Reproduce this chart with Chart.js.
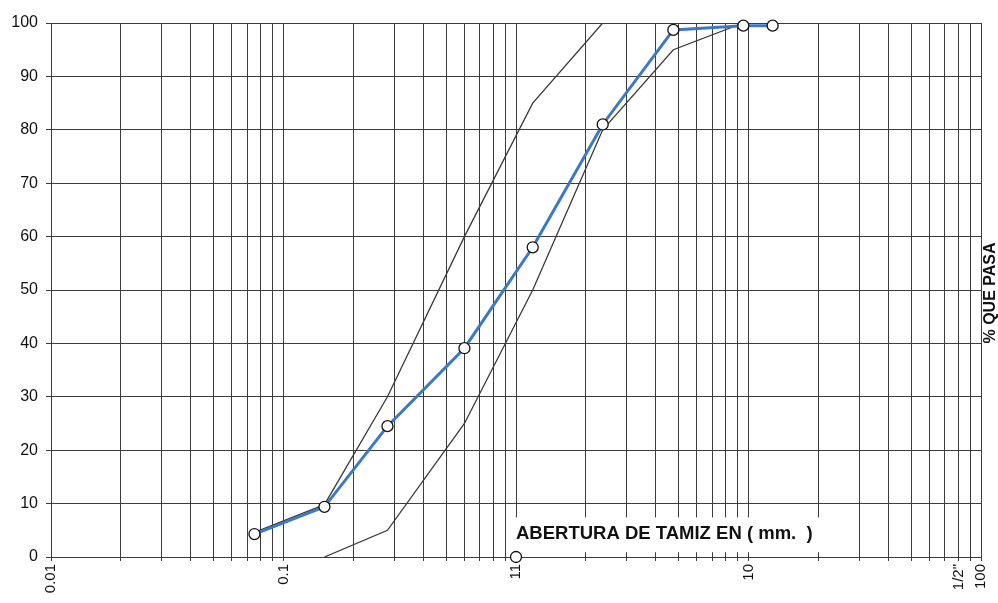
<!DOCTYPE html>
<html>
<head>
<meta charset="utf-8">
<script src="https://cdn.jsdelivr.net/npm/chart.js@4.4.1/dist/chart.umd.min.js"></script>
<style>
  html, body { margin: 0; padding: 0; background: #fff; }
  #wrap { width: 998px; height: 603px; position: relative; }
</style>
</head>
<body>
<div id="wrap"><canvas id="granulometria"></canvas></div>
<script>
// abertura de tamiz (mm) y % que pasa
const sieveSizes = [0.075, 0.15, 0.28, 0.6, 1.18, 2.36, 4.75, 9.5, 12.7];
const percentPassing = [4.3, 9.4, 24.5, 39.1, 58.0, 81.0, 98.7, 99.5, 99.5];

// limites del huso
const upperSizes = [0.075, 0.15, 0.28, 0.6, 1.18, 2.36];
const upperLimit = [4.6, 9.8, 30, 60, 85, 100];
const lowerSizes = [0.15, 0.28, 0.6, 1.18, 2.36, 4.75, 9.5];
const lowerLimit = [0, 5, 25, 50, 80, 95, 100];

// punto suelto sobre el eje
const extraSizes = [1];
const extraValues = [0];

// etiquetas del eje x
const xTickValues = [0.01, 0.1, 1, 10, 80, 100];
const xTickLabels = ['0.01', '0.1', '11', '10', '1/2"', '100'];

const FONT = "Arial, 'Liberation Sans', sans-serif";

function toPoints(xs, ys) {
  return xs.map((x, i) => ({ x: x, y: ys[i] }));
}

// todas las lineas de la grilla logaritmica
const gridValues = [];
for (let e = -2; e <= 1; e++) {
  for (let m = 1; m <= 9; m++) {
    gridValues.push(+(m * Math.pow(10, e)).toPrecision(3));
  }
}
gridValues.push(100);

// textos extra: titulo del eje x sobre fondo blanco y "% QUE PASA"
const textosPlugin = {
  id: 'textos',
  beforeDatasetsDraw(chart) {
    const ctx = chart.ctx;
    const xs = chart.scales.x;
    const ys = chart.scales.y;
    const x0 = xs.getPixelForValue(1) - 2;
    const y0 = ys.getPixelForValue(7.4);
    const y1 = ys.getPixelForValue(0.9);
    ctx.save();
    ctx.fillStyle = '#fff';
    ctx.fillRect(x0, y0, 314, y1 - y0);
    ctx.fillStyle = '#111';
    ctx.font = 'bold 18.5px ' + FONT;
    ctx.textBaseline = 'middle';
    ctx.textAlign = 'left';
    ctx.fillText('ABERTURA DE TAMIZ EN ( mm.  )', x0 + 2, (y0 + y1) / 2 - 1);
    ctx.restore();
  },
  afterDraw(chart) {
    const ctx = chart.ctx;
    const area = chart.chartArea;
    ctx.save();
    ctx.translate(chart.width - 7, (area.top + area.bottom) / 2 + 3);
    ctx.rotate(-Math.PI / 2);
    ctx.fillStyle = '#111';
    ctx.font = 'bold 16px ' + FONT;
    ctx.textAlign = 'center';
    ctx.textBaseline = 'middle';
    ctx.fillText('% QUE PASA', 0, 0);
    ctx.restore();
  }
};

const ctx = document.getElementById('granulometria').getContext('2d');
const chart = new Chart(ctx, {
  type: 'line',
  data: {
    datasets: [
      {
        label: 'Muestra',
        data: toPoints(sieveSizes, percentPassing),
        borderColor: '#3b78c6',
        borderWidth: 3,
        pointRadius: 5.5,
        pointBackgroundColor: '#fff',
        pointBorderColor: '#111',
        pointBorderWidth: 1.3,
        tension: 0,
        clip: false
      },
      {
        label: 'Punto',
        data: toPoints(extraSizes, extraValues),
        showLine: false,
        pointRadius: 5.5,
        pointBackgroundColor: '#fff',
        pointBorderColor: '#111',
        pointBorderWidth: 1.3,
        clip: false
      },
      {
        label: 'Limite superior',
        data: toPoints(upperSizes, upperLimit),
        borderColor: '#3a3a3a',
        borderWidth: 1.3,
        pointRadius: 0,
        tension: 0
      },
      {
        label: 'Limite inferior',
        data: toPoints(lowerSizes, lowerLimit),
        borderColor: '#3a3a3a',
        borderWidth: 1.3,
        pointRadius: 0,
        tension: 0
      }
    ]
  },
  options: {
    responsive: true,
    maintainAspectRatio: false,
    animation: false,
    layout: { padding: { top: 23, right: 17, left: 0, bottom: 0 } },
    plugins: {
      legend: { display: false },
      tooltip: { enabled: false }
    },
    scales: {
      x: {
        type: 'logarithmic',
        min: 0.01,
        max: 100,
        afterBuildTicks: function(scale) {
          scale.ticks = gridValues.map(v => ({ value: v }));
        },
        afterFit: function(scale) {
          scale.height = 46;
          scale.paddingRight = 0;
          scale.paddingLeft = 0;
        },
        grid: { color: '#3c3c3c', lineWidth: 1, tickLength: 4 },
        border: { color: '#3c3c3c' },
        ticks: {
          autoSkip: false,
          minRotation: 90,
          maxRotation: 90,
          padding: 3,
          color: '#111',
          font: { family: FONT, size: 15 },
          callback: function(value) {
            const i = xTickValues.findIndex(v => Math.abs(v - value) < value * 1e-6);
            return i >= 0 ? xTickLabels[i] : '';
          }
        }
      },
      y: {
        min: 0,
        max: 100,
        afterFit: function(scale) { scale.width = 51; },
        grid: { color: '#3c3c3c', lineWidth: 1, tickLength: 5 },
        border: { color: '#3c3c3c' },
        ticks: {
          stepSize: 10,
          padding: 8,
          color: '#111',
          font: { family: FONT, size: 16 }
        }
      }
    }
  },
  plugins: [textosPlugin]
});
</script>
</body>
</html>
